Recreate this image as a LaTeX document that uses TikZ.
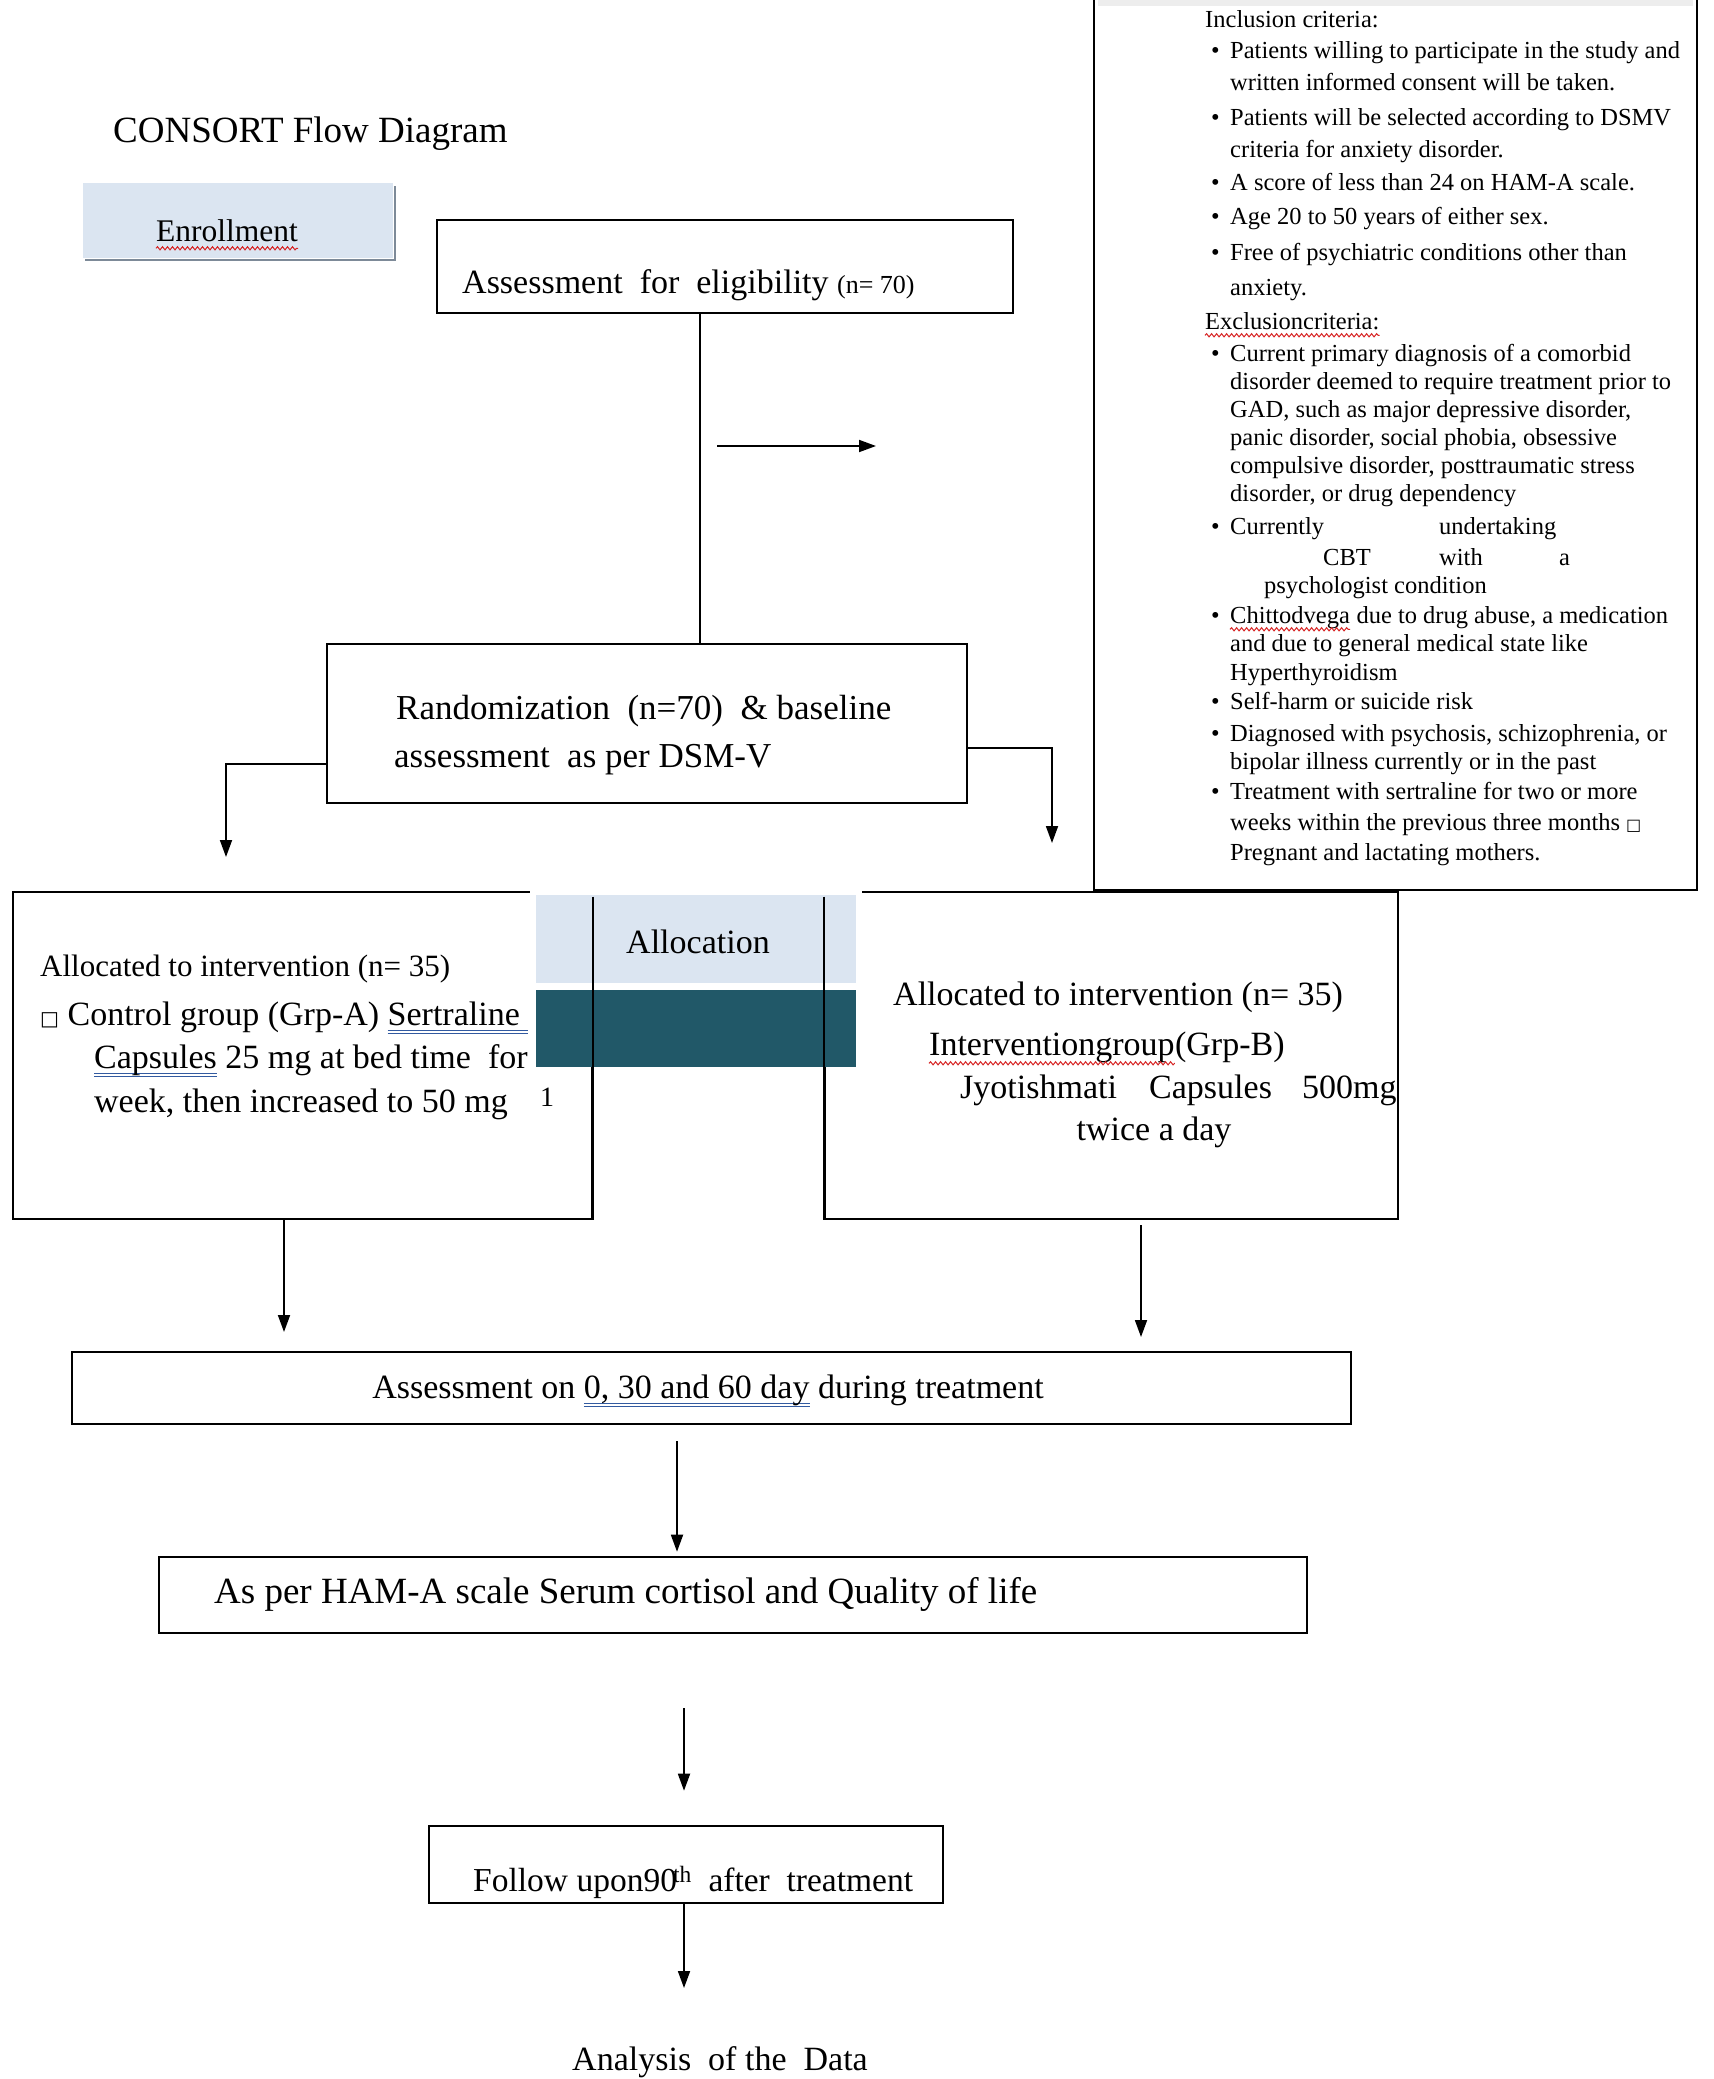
\documentclass[tikz,border=0pt]{standalone}
\usepackage{fontspec}
\setmainfont{Liberation Serif}
\newfontfamily\symbfont{DejaVu Sans}
\usepackage{xcolor}
\usetikzlibrary{arrows.meta,shadows,decorations.pathmorphing}

\definecolor{enrolblue}{RGB}{219,229,241}
\definecolor{enrolshade}{RGB}{125,138,152}
\definecolor{allocteal}{RGB}{33,88,104}
\definecolor{spellred}{RGB}{215,35,35}
\definecolor{grammarblue}{RGB}{50,90,160}

\newcommand\pxfont[1]{\fontsize{#1}{#1}\selectfont}
\newcommand\blanksq[1]{{\symbfont\fontsize{#1}{#1}\selectfont □}}
\newcommand\dblul[1]{\setbox0\hbox{#1}%
  \rlap{\color{grammarblue}\rule[-6pt]{\wd0}{1.2pt}}%
  \rlap{\color{grammarblue}\rule[-9pt]{\wd0}{1.2pt}}\box0\relax}

\tikzset{
  flowbox/.style={draw=black,line width=2.6pt,inner sep=0pt,fill=white},
  flowtext/.style={inner sep=0pt,anchor=mid west,font=\pxfont{34},yshift=-8pt},
  critext/.style={inner sep=0pt,anchor=mid west,font=\pxfont{24.5},yshift=-6pt},
  link/.style={line width=1.8pt,-{Triangle[length=17pt,width=12pt]}},
  plainlink/.style={line width=1.8pt},
  spellwave/.style={draw=spellred,line width=1pt,decorate,
    decoration={snake,amplitude=1.6pt,segment length=5pt}}
}

\begin{document}
\begin{tikzpicture}[x=1pt,y=-1pt]
\fill[white] (0,0) rectangle (1713,2079);
\useasboundingbox (0,0) rectangle (1713,2079);

\node[flowtext,font=\pxfont{37}] (title) at (113,132) {CONSORT Flow Diagram};

\node[fill=enrolblue,draw=white,line width=1pt,minimum width=311pt,minimum height=75pt,
      drop shadow={shadow xshift=3pt,shadow yshift=-3pt,fill=enrolshade,opacity=1}]
      (enrol) at (237.5,220.5) {};
\node[flowtext,font=\pxfont{31.5},anchor=mid] (enroltxt) at (227,231) {Enrollment};
\draw[spellwave] ([yshift=-7pt]enroltxt.base west) -- ([yshift=-7pt]enroltxt.base east);

\node[flowbox,minimum width=576pt,minimum height=93pt] (elig) at (725,266.5) {};
\node[flowtext] (eligtxt) at (462,283) {Assessment\ \ for\ \ eligibility {\pxfont{26}(n= 70)}};

\node[flowbox,minimum width=640pt,minimum height=159pt] (rand) at (647,723.5) {};
\node[flowtext,font=\pxfont{35}] (randtxt1) at (396,709) {Randomization\ \ (n=70)\ \ \& baseline};
\node[flowtext,font=\pxfont{35}] (randtxt2) at (394,757) {assessment\ \ as per DSM-V};

\coordinate (trunk) at (700,0);
\draw[plainlink] (elig.south -| trunk) -- (rand.north -| trunk);
\coordinate (exclfrom) at (717,446);
\coordinate (exclto) at (876,446);
\draw[link] (exclfrom) -- (exclto);

\coordinate (lsplit) at (0,764);
\coordinate (lend) at (226,857);
\draw[link] (rand.west |- lsplit) -| (lend);
\coordinate (rsplit) at (0,748);
\coordinate (rend) at (1052,843);
\draw[link] (rand.east |- rsplit) -| (rend);

% criteria box
\node[flowbox,minimum width=603pt,minimum height=912pt] (crit) at (1395.5,434) {};
\fill[black!7] (1098,0) rectangle (1693,6);
\node[critext] (inchead) at (1205,19) {Inclusion criteria:};
\node[critext] (exchead) at (1205,321) {Exclusioncriteria:};
\draw[spellwave] ([yshift=-6pt]exchead.base west) -- ([yshift=-6pt]exchead.base east);
\foreach \y in {50,117,182,216,252,353,526,615,701,733,791}
  \node[critext] (dot\y) at (1211,\y) {•};
\foreach \y/\t in {50/{Patients willing to participate in the study and},
    82/{written informed consent will be taken.},
    117/{Patients will be selected according to DSMV},
    149/{criteria for anxiety disorder.},
    182/{A score of less than 24 on HAM-A scale.},
    216/{Age 20 to 50 years of either sex.},
    252/{Free of psychiatric conditions other than},
    287/{anxiety.},
    353/{Current primary diagnosis of a comorbid},
    381/{disorder deemed to require treatment prior to},
    409/{GAD, such as major depressive disorder,},
    437/{panic disorder, social phobia, obsessive},
    465/{compulsive disorder, posttraumatic stress},
    493/{disorder, or drug dependency},
    526/{Currently},
    643/{and due to general medical state like},
    672/{Hyperthyroidism},
    701/{Self-harm or suicide risk},
    733/{Diagnosed with psychosis, schizophrenia, or},
    761/{bipolar illness currently or in the past},
    791/{Treatment with sertraline for two or more},
    822/{weeks within the previous three months \blanksq{16}},
    852/{Pregnant and lactating mothers.}}
  \node[critext] (line\y) at (1230,\y) {\t};
\node[critext] (undertk) at (1439,526) {undertaking};
\node[critext] (cbt) at (1323,557) {CBT};
\node[critext] (cbtwith) at (1439,557) {with};
\node[critext] (cbta) at (1559,557) {a};
\node[critext] (psych) at (1264,585) {psychologist condition};
\node[critext] (chitto) at (1230,615) {Chittodvega};
\node[inner sep=0pt,anchor=base west,font=\pxfont{24.5}] (chitrest) at (chitto.base east) {\ due to drug abuse, a medication};
\draw[spellwave] ([yshift=-6pt]chitto.base west) -- ([yshift=-6pt]chitto.base east);

% allocation
\node[flowbox,minimum width=579pt,minimum height=327pt] (lbox) at (302.5,1055.5) {};
\node[flowbox,minimum width=573pt,minimum height=327pt] (rbox) at (1111.5,1055.5) {};
\fill[white] (530,883) rectangle (862,990);
\node[fill=enrolblue,inner sep=0pt,minimum width=320pt,minimum height=88pt] (alloc) at (696,939) {};
\node[fill=allocteal,inner sep=0pt,minimum width=320pt,minimum height=77pt] (allocbar) at (696,1028.5) {};
\node[flowtext,anchor=mid] (alloctxt) at (698,943) {Allocation};
\draw[line width=2pt] ([yshift=-6pt]lbox.north east) -- (lbox.south east);
\draw[line width=2pt] ([yshift=-6pt]rbox.north west) -- (rbox.south west);

\node[flowtext,font=\pxfont{31}] (grpa1) at (40,966) {Allocated to intervention (n= 35)};
\node[flowtext] (grpa2) at (40,1015) {\blanksq{20}\ Control group (Grp-A) \dblul{Sertraline\ }};
\node[flowtext] (grpa3) at (94,1058) {\dblul{Capsules} 25 mg at bed time\ \ for};
\node[flowtext] (grpa4) at (94,1102) {week, then increased to 50 mg};
\node[flowtext,font=\pxfont{28}] (grpa5) at (540,1096) {1};

\node[flowtext] (grpb1) at (893,995) {Allocated to intervention (n= 35)};
\node[flowtext] (grpb2) at (929,1045) {Interventiongroup};
\node[inner sep=0pt,anchor=base west,font=\pxfont{34}] (grpb2b) at (grpb2.base east) {(Grp-B)};
\draw[spellwave] ([yshift=-8pt]grpb2.base west) -- ([yshift=-8pt]grpb2.base east);
\node[flowtext] (grpb3a) at (960,1088) {Jyotishmati};
\node[flowtext] (grpb3b) at (1149,1088) {Capsules};
\node[flowtext] (grpb3c) at (1302,1088) {500mg};
\node[flowtext,anchor=mid] (grpb4) at (1154,1130) {twice a day};

\coordinate (ldown) at (284,1332);
\coordinate (rdown) at (1141,1337);
\draw[link] (lbox.south -| ldown) -- (ldown);
\draw[link,shorten <=5pt] (rbox.south -| rdown) -- (rdown);

% follow-up
\node[flowbox,minimum width=1279pt,minimum height=72pt] (assess) at (711.5,1388) {};
\node[flowtext,anchor=mid] (assesstxt) at (708,1388) {Assessment on \dblul{0, 30 and 60 day} during treatment};

\node[flowbox,minimum width=1148pt,minimum height=76pt] (serum) at (733,1595) {};
\node[flowtext,font=\pxfont{37}] (serumtxt) at (214,1593) {As per HAM-A scale Serum cortisol and Quality of life};

\node[flowbox,minimum width=514pt,minimum height=77pt] (follow) at (686,1864.5) {};
\node[flowtext,font=\pxfont{33.5}] (followtxt) at (473,1881) {Follow upon90\kern-4pt\textsuperscript{th}\ \ after\ \ treatment};

\node[flowtext,anchor=mid] (datatxt) at (720,2060) {Analysis\ \ of the\ \ Data};

\coordinate (spinea) at (677,0);
\coordinate (spineb) at (684,0);
\coordinate (dataend) at (684,1988);
\draw[link,shorten <=16pt,shorten >=4pt] (assess.south -| spinea) -- (serum.north -| spinea);
\draw[link,shorten <=74pt,shorten >=34pt] (serum.south -| spineb) -- (follow.north -| spineb);
\draw[link] (follow.south -| dataend) -- (dataend);
\end{tikzpicture}
\end{document}
